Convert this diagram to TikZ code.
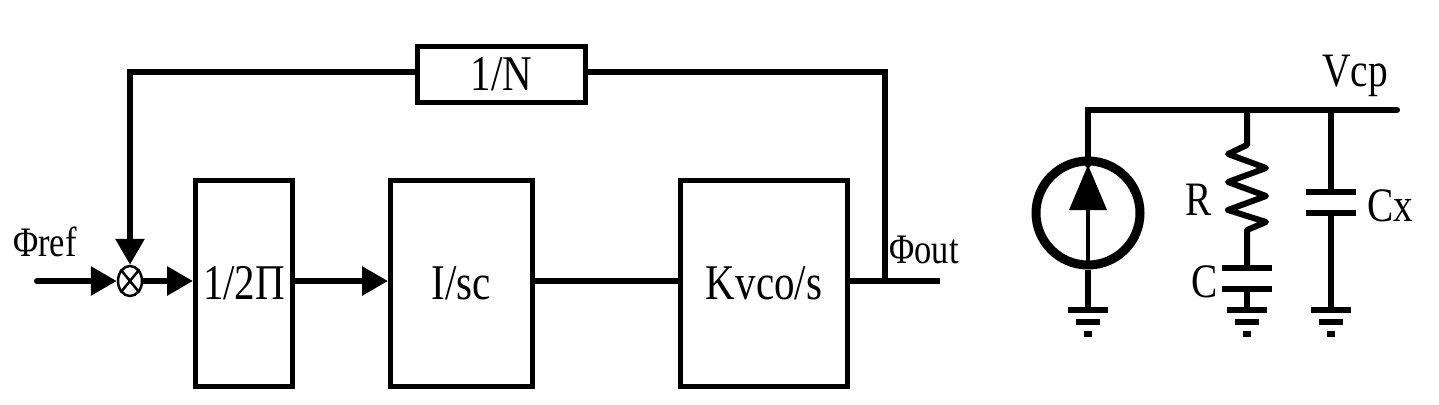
\documentclass[tikz,border=0pt]{standalone}
\usepackage{fontspec}
\setmainfont[FakeStretch=0.82]{Liberation Serif}
\usetikzlibrary{arrows.meta,shapes.geometric}
\begin{document}
\begin{tikzpicture}[x=1pt,y=-1pt,
  wire/.style={line width=6pt},
  arr/.style={wire,-{Triangle[length=26pt,width=28pt]}},
  blk/.style={draw,line width=5pt,anchor=north west,inner sep=0pt,font=\fontsize{50}{50}\selectfont},
  lbl/.style={font=\fontsize{42}{42}\selectfont,inner sep=0pt}]
\useasboundingbox (0,0) rectangle (1439,404);
% blocks
\node[blk,minimum width=97pt,minimum height=206pt] (b1) at (193,178) {1/2Π};
\node[blk,minimum width=142pt,minimum height=206pt] (b2) at (388,178) {I/sc};
\node[blk,minimum width=167pt,minimum height=206pt] (b3) at (678,178) {Kvco/s};
\node[blk,minimum width=168pt,minimum height=56pt] (bn) at (415,44) {1/N};
\node[draw,ellipse,line width=2.5pt,minimum width=24pt,minimum height=30pt,inner sep=0pt] (mx) at (130,281) {};
\draw[line width=2.5pt] (mx.north west)--(mx.south east) (mx.north east)--(mx.south west);
\coordinate (in) at (37,281);
\coordinate (out) at (940,281);
\coordinate (fb) at (885,281);
\draw[arr,line cap=round] (in) -- (mx.west);
\draw[arr] (mx.east) -- (b1.west|-mx.east);
\draw[arr] (b1.east|-mx) -- (b2.west|-mx);
\draw[wire] (b2.east|-mx) -- (b3.west|-mx);
\draw[wire] (b3.east|-mx) -- (out);
\draw[wire] (fb) -- (885,72) -- (bn.east|-0,72);
\draw[arr] (bn.west|-0,72) -- (130,72) -- (mx.north);
\node[lbl] (pr) at (45,242) {Φref};
\node[lbl] (po) at (924,250) {Φout};
% circuit
\coordinate (t1) at (1088,110); \coordinate (t2) at (1247,110);
\coordinate (t3) at (1331,110); \coordinate (te) at (1397,110);
\draw[wire,line cap=round] (1088,165) -- (t1) -- (te);
\node[draw,circle,line width=9pt,minimum size=104pt,inner sep=0pt] (cs) at (1088,213) {};
\draw[line width=3.5pt] (1088,262) -- (1088,185);
\fill (1088,165) -- (1107,210) -- (1069,210) -- cycle;
\draw[wire] (cs.south) -- (1088,310);
\newcommand\gnd[1]{\draw[line width=6pt] (#1-20,310) -- (#1+20,310);
  \draw[line width=6pt] (#1-12,322) -- (#1+12,322);
  \draw[line width=6pt] (#1-4,334) -- (#1+4,334);}
\gnd{1088}\gnd{1247}\gnd{1331}
\draw[wire,line join=round] (t2) -- (1247,145) -- (1228,154) -- (1266,168) -- (1228,182) -- (1266,196) -- (1228,210) -- (1266,222) -- (1247,230) -- (1247,268);
\draw[wire] (1222,268) -- (1272,268);
\draw[wire] (1222,289) -- (1272,289);
\draw[wire] (1247,289) -- (1247,310);
\draw[wire] (t3) -- (1331,192);
\draw[wire] (1306,192) -- (1356,192);
\draw[wire] (1306,213) -- (1356,213);
\draw[wire] (1331,213) -- (1331,310);
\node[lbl,font=\fontsize{48}{48}\selectfont] (vcp) at (1355,76) {Vcp};
\node[lbl,font=\fontsize{48}{48}\selectfont] (lr) at (1199,200) {R};
\node[lbl,font=\fontsize{48}{48}\selectfont] (lc) at (1205,282) {C};
\node[lbl,font=\fontsize{48}{48}\selectfont] (lcx) at (1390,206) {Cx};
\end{tikzpicture}
\end{document}
